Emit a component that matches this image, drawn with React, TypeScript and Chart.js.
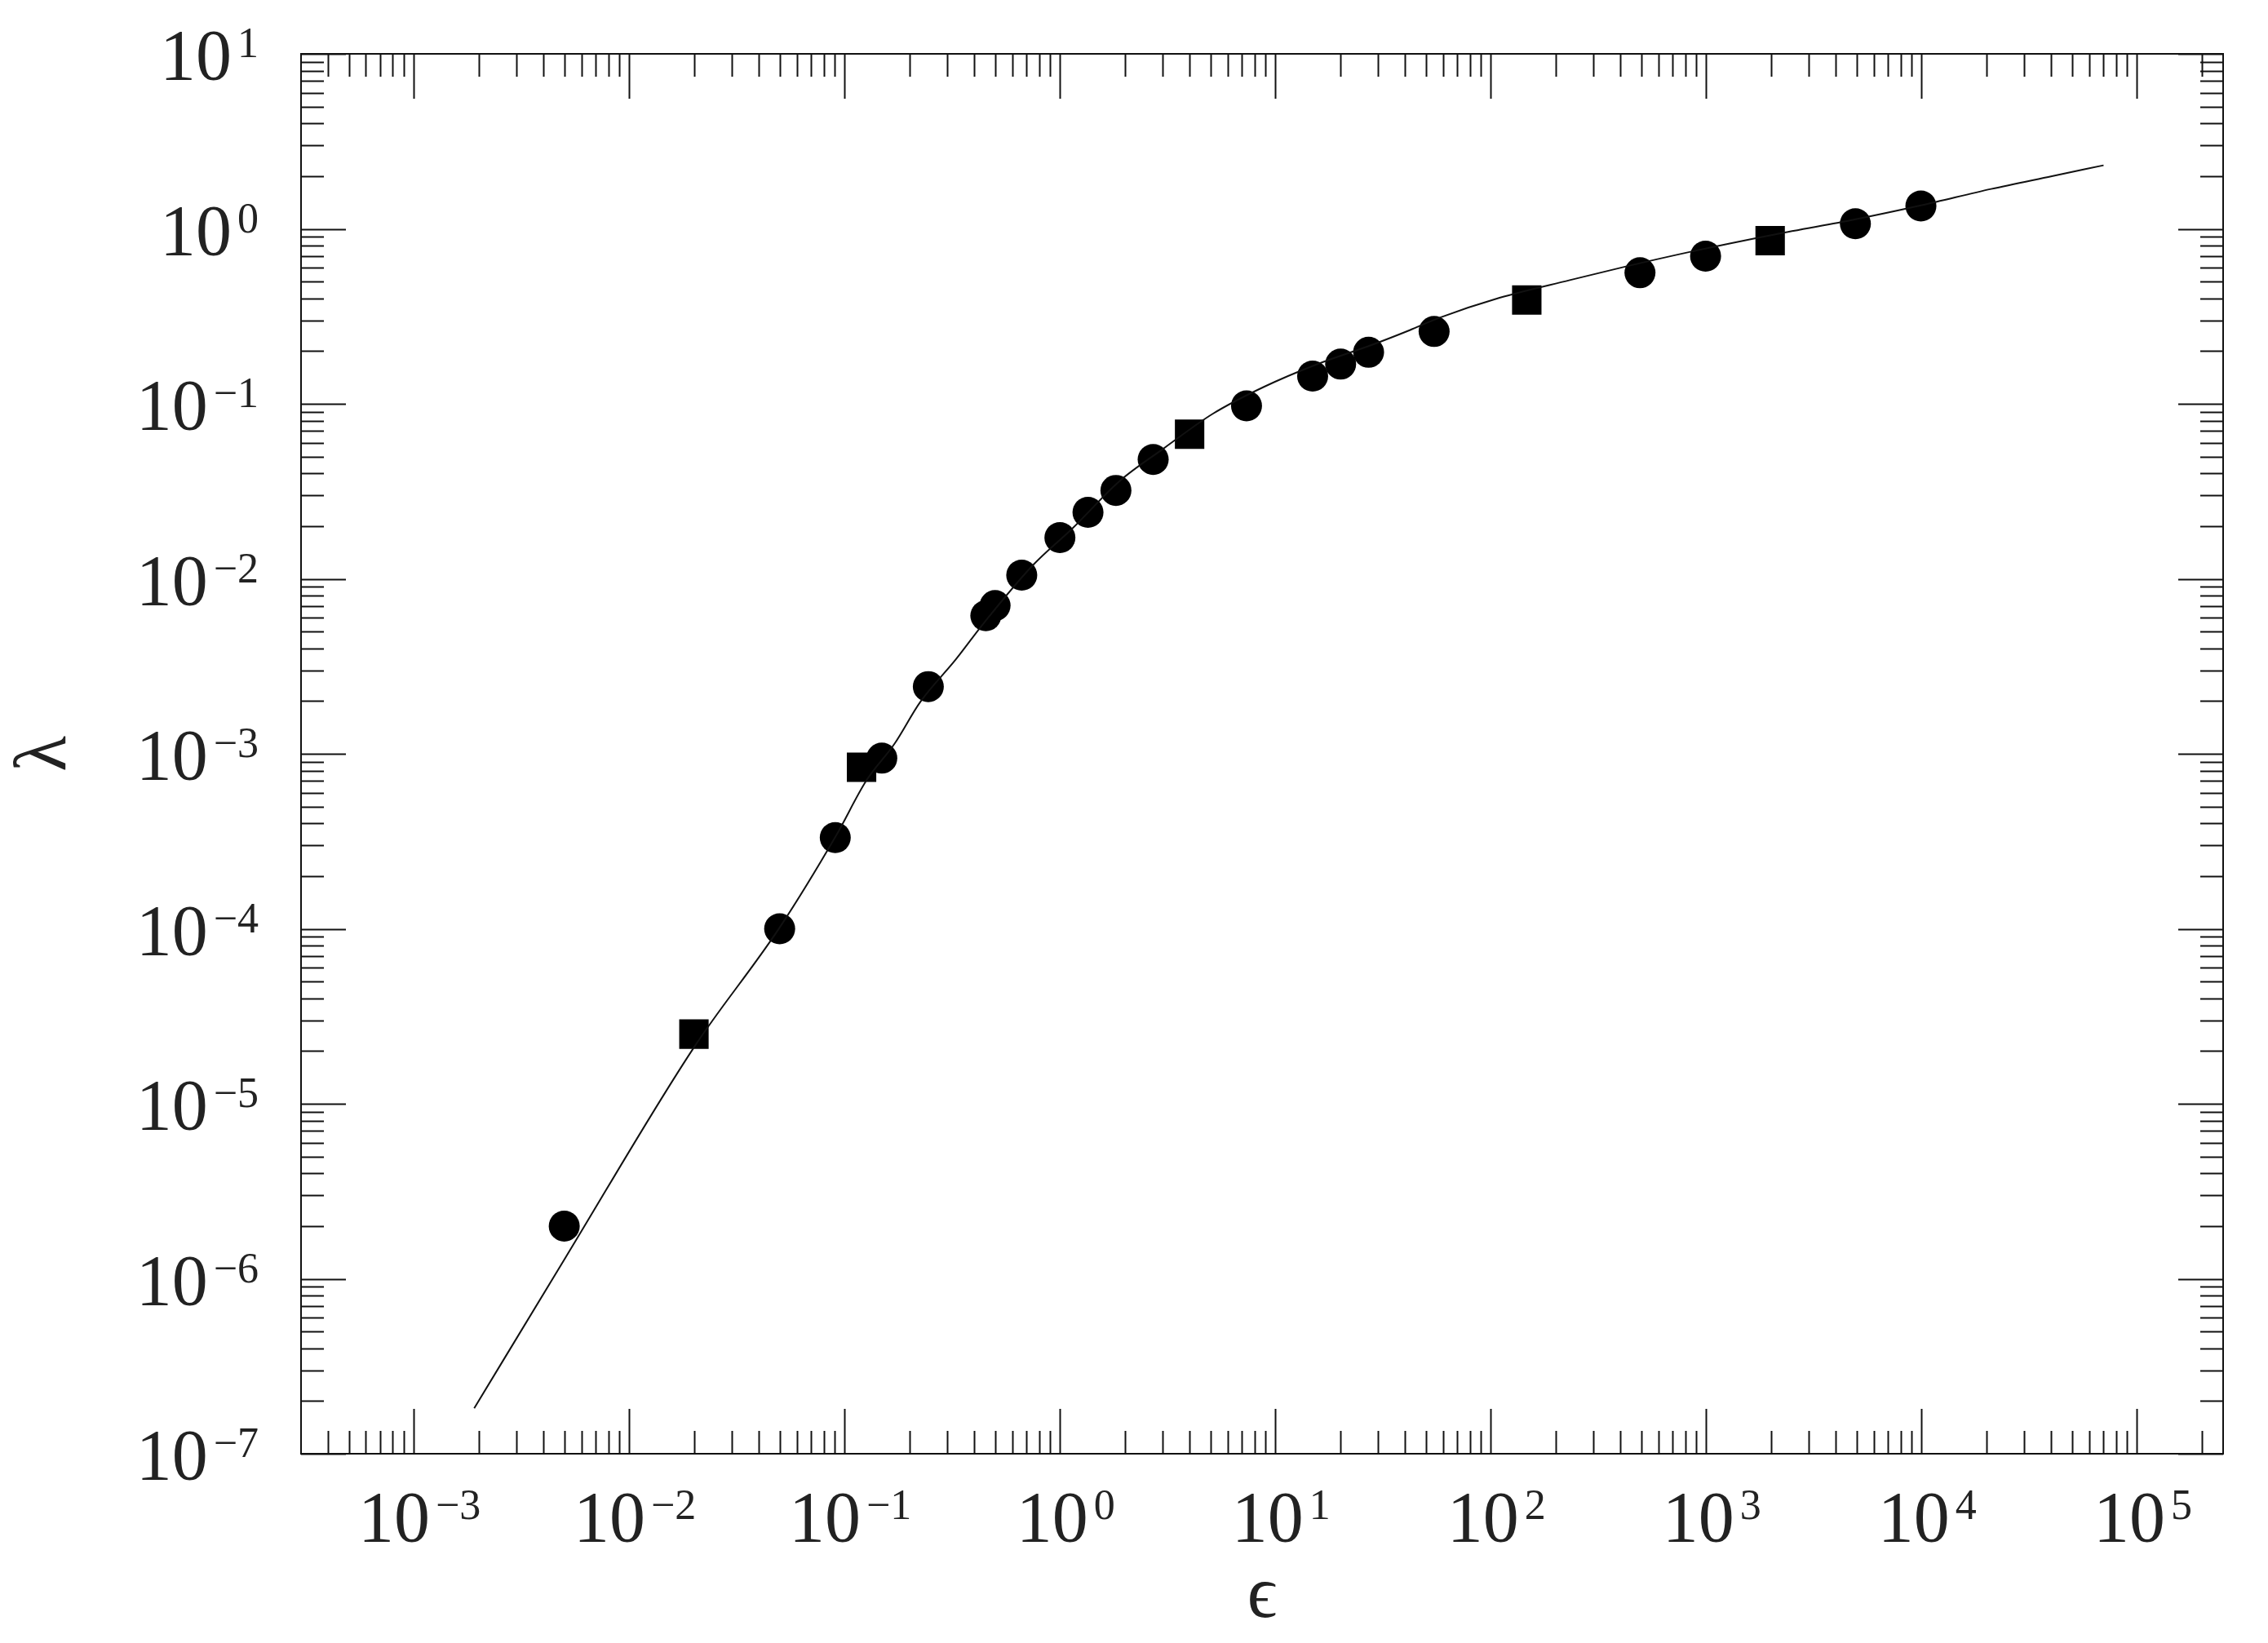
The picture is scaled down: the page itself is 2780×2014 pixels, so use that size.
import React, { useEffect, useRef } from 'react';
import { Chart, registerables } from 'chart.js';

Chart.register(...registerables);

// ---- data ----
const curveEps = [0.00191, 0.00501, 0.01995, 0.0501, 0.0912, 0.1265, 0.1706, 0.2249, 0.3273, 0.4416, 0.7464, 1.143, 1.888, 3.027, 5.14, 8.89, 15.45, 28.25, 42.07, 57.3, 109.9, 232.8, 424.6, 855, 2005, 4688, 9931, 21040, 40270, 69980];
const curveLambda = [1.82e-7, 1.29e-6, 2.09e-5, 1.02e-4, 3.39e-4, 7.05e-4, 1.14e-3, 1.98e-3, 3.44e-3, 5.55e-3, 1.19e-2, 1.94e-2, 3.61e-2, 5.55e-2, 8.79e-2, 0.1253, 0.1675, 0.2178, 0.2636, 0.309, 0.4036, 0.5093, 0.6095, 0.7413, 0.9204, 1.119, 1.361, 1.69, 2.0, 2.307];

const circleEps = [0.005, 0.05, 0.0906, 0.149, 0.245, 0.453, 0.5, 0.665, 1.0, 1.35, 1.82, 2.71, 7.35, 14.9, 20.1, 27.1, 54.6, 493, 994, 4930, 9930];
const circleLambda = [2.0e-6, 1.0e-4, 3.32e-4, 9.44e-4, 2.42e-3, 6.15e-3, 7.03e-3, 1.05e-2, 1.72e-2, 2.4e-2, 3.2e-2, 4.81e-2, 9.73e-2, 0.144, 0.1686, 0.197, 0.259, 0.561, 0.698, 1.07, 1.35];

const squareEps = [0.02, 0.12, 4.0, 147, 1982];
const squareLambda = [2.5e-5, 8.38e-4, 6.7e-2, 0.392, 0.856];

const xDecadeExponents = [-3, -2, -1, 0, 1, 2, 3, 4, 5];
const yDecadeExponents = [-7, -6, -5, -4, -3, -2, -1, 0, 1];
const minorMultipliers = [2, 3, 4, 5, 6, 7, 8, 9];

const X_MIN = Math.pow(10, -3.5);
const X_MAX = Math.pow(10, 5.4);
const Y_MIN = 1e-7;
const Y_MAX = 10;

const W = 2780;
const H = 2014;
const FONT = '"Liberation Serif", "DejaVu Serif", serif';
const BASE_SIZE = 88;
const EXP_SIZE = 52;
const INK = '#111';
const TEXT_INK = '#222';

function drawPowerLabel(ctx: CanvasRenderingContext2D, exp: number, x: number, yCenter: number, align: 'right' | 'center') {
  const base = '10';
  const expText = exp < 0 ? '\u2212' + Math.abs(exp) : String(exp);
  ctx.font = `${BASE_SIZE}px ${FONT}`;
  const bw = ctx.measureText(base).width;
  ctx.font = `${EXP_SIZE}px ${FONT}`;
  const ew = ctx.measureText(expText).width;
  const gap = 7;
  const total = bw + gap + ew;
  const left = align === 'right' ? x - total : x - total / 2;
  const digitH = BASE_SIZE * 0.666;
  const baseline = yCenter + digitH / 2;
  ctx.textAlign = 'left';
  ctx.textBaseline = 'alphabetic';
  ctx.fillStyle = TEXT_INK;
  ctx.font = `${BASE_SIZE}px ${FONT}`;
  ctx.fillText(base, left, baseline);
  ctx.font = `${EXP_SIZE}px ${FONT}`;
  ctx.fillText(expText, left + bw + gap, baseline - digitH + EXP_SIZE * 0.666 - 3);
}

const framePlugin = {
  id: 'frameTicks',
  afterDraw(chart: any) {
    const { ctx, chartArea: a, scales } = chart;
    const xs = scales.x;
    const ys = scales.y;
    ctx.save();
    ctx.strokeStyle = INK;
    ctx.lineWidth = 2;
    ctx.lineCap = 'butt';
    ctx.strokeRect(a.left, a.top, a.right - a.left, a.bottom - a.top);
    const seg = (x1: number, y1: number, x2: number, y2: number) => {
      ctx.beginPath();
      ctx.moveTo(x1, y1);
      ctx.lineTo(x2, y2);
      ctx.stroke();
    };
    const MAJOR = 55;
    const MINOR = 28;
    // x ticks (bottom and top)
    for (let d = -4; d <= 5; d++) {
      const vals = [{ v: Math.pow(10, d), major: true }].concat(minorMultipliers.map((m) => ({ v: m * Math.pow(10, d), major: false })));
      for (const t of vals) {
        if (t.v < X_MIN || t.v > X_MAX) continue;
        const px = Math.round(xs.getPixelForValue(t.v)) + 0.5;
        const len = t.major ? MAJOR : MINOR;
        seg(px, a.bottom, px, a.bottom - len);
        seg(px, a.top, px, a.top + len);
      }
    }
    // y ticks (left and right)
    for (let d = -8; d <= 1; d++) {
      const vals = [{ v: Math.pow(10, d), major: true }].concat(minorMultipliers.map((m) => ({ v: m * Math.pow(10, d), major: false })));
      for (const t of vals) {
        if (t.v < Y_MIN * 0.999 || t.v > Y_MAX * 1.001) continue;
        const py = Math.round(ys.getPixelForValue(t.v)) + 0.5;
        const len = t.major ? MAJOR : MINOR;
        seg(a.left, py, a.left + len, py);
        seg(a.right, py, a.right - len, py);
      }
    }
    // labels
    for (const e of xDecadeExponents) {
      const px = xs.getPixelForValue(Math.pow(10, e));
      drawPowerLabel(ctx, e, px + 7, a.bottom + 78, 'center');
    }
    for (const e of yDecadeExponents) {
      const py = ys.getPixelForValue(Math.pow(10, e));
      drawPowerLabel(ctx, e, 317, py + 2, 'right');
    }
    ctx.restore();
  },
};

export default function App() {
  const canvasRef = useRef<HTMLCanvasElement | null>(null);

  useEffect(() => {
    const canvas = canvasRef.current;
    if (!canvas) return;
    const curve = curveEps.map((x, i) => ({ x, y: curveLambda[i] }));
    const circles = circleEps.map((x, i) => ({ x, y: circleLambda[i] }));
    const squares = squareEps.map((x, i) => ({ x, y: squareLambda[i] }));

    const chart = new Chart(canvas, {
      type: 'scatter',
      data: {
        datasets: [
          {
            type: 'line',
            label: 'fit',
            data: curve,
            borderColor: INK,
            borderWidth: 2,
            pointRadius: 0,
            fill: false,
            cubicInterpolationMode: 'monotone',
          } as any,
          {
            label: 'circles',
            data: circles,
            pointStyle: 'circle',
            pointRadius: 19,
            backgroundColor: '#000',
            borderWidth: 0,
          },
          {
            label: 'squares',
            data: squares,
            pointStyle: 'rect',
            pointRadius: 25.5,
            backgroundColor: '#000',
            borderWidth: 0,
          },
        ],
      },
      options: {
        responsive: false,
        animation: false,
        devicePixelRatio: 1,
        events: [],
        layout: { padding: { top: 66, right: 55, left: 0, bottom: 0 } },
        plugins: { legend: { display: false }, tooltip: { enabled: false } },
        scales: {
          x: {
            type: 'logarithmic',
            position: 'bottom',
            min: X_MIN,
            max: X_MAX,
            grid: { display: false },
            border: { display: false },
            ticks: { display: false },
            title: {
              display: true,
              text: '\u03F5',
              color: TEXT_INK,
              font: { family: FONT, size: 90, weight: 'normal' },
              padding: { top: 0, bottom: 2 },
            },
            afterFit: (s: any) => {
              s.height = 232;
            },
          },
          y: {
            type: 'logarithmic',
            position: 'left',
            min: Y_MIN,
            max: Y_MAX,
            grid: { display: false },
            border: { display: false },
            ticks: { display: false },
            title: {
              display: true,
              text: '\u03BB',
              color: TEXT_INK,
              font: { family: FONT, size: 90, weight: 'normal' },
              padding: { top: 2, bottom: 0 },
            },
            afterFit: (s: any) => {
              s.width = 369;
            },
          },
        },
      } as any,
      plugins: [framePlugin],
    });
    return () => chart.destroy();
  }, []);

  return (
    <div style={{ position: 'absolute', left: 0, top: 0, width: W, height: H, background: '#fff' }}>
      <canvas ref={canvasRef} width={W} height={H} style={{ width: W, height: H, display: 'block' }} />
    </div>
  );
}
